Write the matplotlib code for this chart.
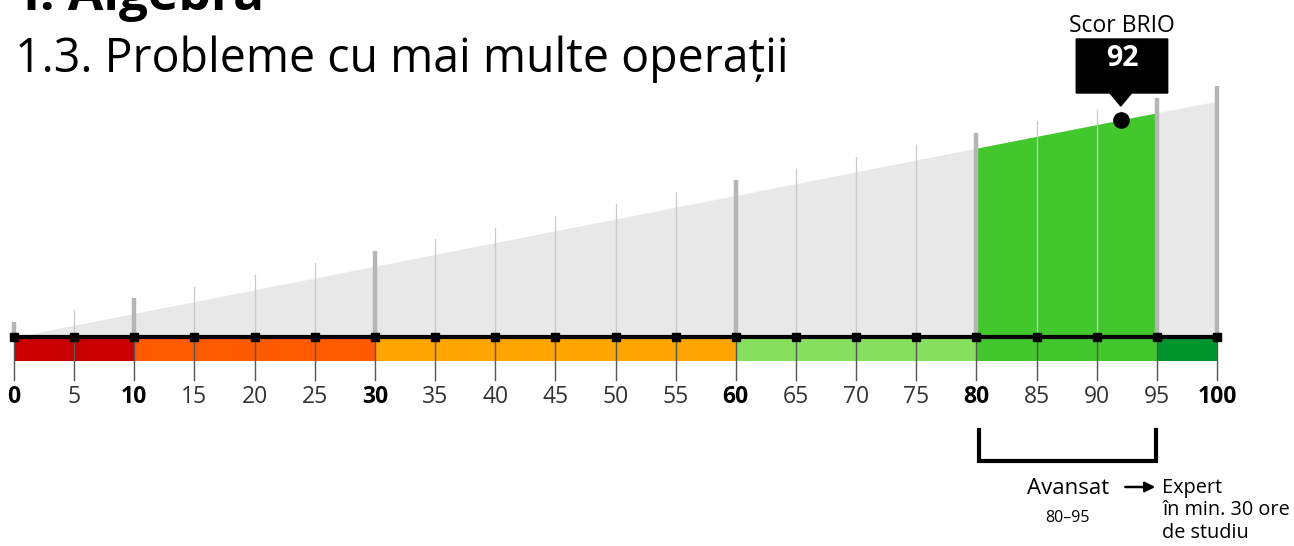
import numpy as np
import matplotlib.pyplot as plt
from matplotlib.patches import Polygon, Rectangle

plt.rcParams['font.family'] = ['Open Sans', 'DejaVu Sans']

# data
ticks = list(range(0, 101, 5))
major_lines = [0, 10, 30, 60, 80, 95, 100]
bold_labels = [0, 10, 30, 60, 80, 100]
band_edges = [0, 10, 30, 60, 80, 95, 100]
band_colors = ['#c80000', '#ff5a00', '#ffa500', '#85e060', '#42c72d', '#00952c']
score = 92
level_range = (80, 95)
level_name = 'Avansat'
level_label = '80–95'
next_text = 'Expert\nîn min. 30 ore\nde studiu'

# layout (y in pixels from top)
base_y = 337
slope = 2.36  # px per score point
bar_h = 24

fig = plt.figure(figsize=(12.94, 5.46), dpi=100)
ax = fig.add_axes([0, 0, 1, 1])
px = 12.03
ax.set_xlim(-14 / px, (1294 - 14) / px)
ax.set_ylim(546, 0)
ax.axis('off')

def top(s):
    return base_y - slope * s

# gray wedge
xs = np.array([0, 100])
ax.fill_between(xs, base_y, top(xs), color='#e8e8e8', lw=0, zorder=1)
# green highlighted part
gx = np.array(level_range)
ax.fill_between(gx, base_y, top(gx), color='#42c72d', lw=0, zorder=2)

# grid lines
for t in ticks:
    if t in major_lines:
        ax.plot([t, t], [base_y, top(t) - 15], color='#b5b5b5', lw=3.2, zorder=3, solid_capstyle='butt')
    else:
        ax.plot([t, t], [base_y, top(t) - 15], color='#c8c8c8', lw=0.9, zorder=3)

# colour bands
for i, c in enumerate(band_colors):
    ax.add_patch(Rectangle((band_edges[i], base_y), band_edges[i + 1] - band_edges[i], bar_h,
                           color=c, lw=0, zorder=2))

# tick lines under axis
for t in ticks:
    ax.plot([t, t], [base_y, base_y + 43], color='#555555', lw=1.0, zorder=4)

# axis line with square markers
ax.plot([0, 100], [base_y, base_y], color='black', lw=3, zorder=5)
ax.plot(ticks, [base_y] * len(ticks), 's', color='black', ms=6, zorder=6)

# tick labels
for t in ticks:
    if t in bold_labels:
        ax.text(t, 397, str(t), ha='center', va='center', fontsize=16.5, fontweight='bold', color='black')
    else:
        ax.text(t, 397, str(t), ha='center', va='center', fontsize=16.5, color='#333333')

# score marker
ax.plot([score], [top(score)], 'o', color='black', ms=11, zorder=7)
bx0, bx1 = 88.3, 95.9
ax.add_patch(Polygon([(bx0, 39), (bx1, 39), (bx1, 93), (score + 0.9, 93), (score, 106),
                      (score - 0.9, 93), (bx0, 93)], closed=True, color='black', zorder=7))
ax.text((bx0 + bx1) / 2, 58, str(score), ha='center', va='center', fontsize=20.5,
        fontweight='bold', color='white', zorder=8)
ax.text((bx0 + bx1) / 2, 26, 'Scor BRIO', ha='center', va='center', fontsize=16.5, color='black')

# titles
ax.text(0.75, 10, 'I. Algebra', ha='left', va='baseline', fontsize=37, fontweight='bold')
ax.text(0.07, 72, '1.3. Probleme cu mai multe operații', ha='left', va='baseline', fontsize=33.5)

# bracket
l0, l1 = level_range
ax.plot([l0 + 0.2, l0 + 0.2, l1 - 0.05, l1 - 0.05], [430, 461, 461, 430], color='black', lw=3,
        solid_joinstyle='miter', zorder=5)
mid = (l0 + l1) / 2 + 0.1
ax.text(mid, 489, level_name, ha='center', va='center', fontsize=16)
ax.text(mid, 518, level_label, ha='center', va='center', fontsize=11.5)
ax.annotate('', xy=(l1 + 0.1, 487), xytext=(l1 - 2.85, 487),
            arrowprops=dict(arrowstyle='-|>', color='black', lw=1.8, mutation_scale=15))
ax.text(l1 + 0.45, 478, next_text, ha='left', va='top', fontsize=14.3, fontweight='medium',
        linespacing=1.15)

fig.savefig('out.png', dpi=100)
